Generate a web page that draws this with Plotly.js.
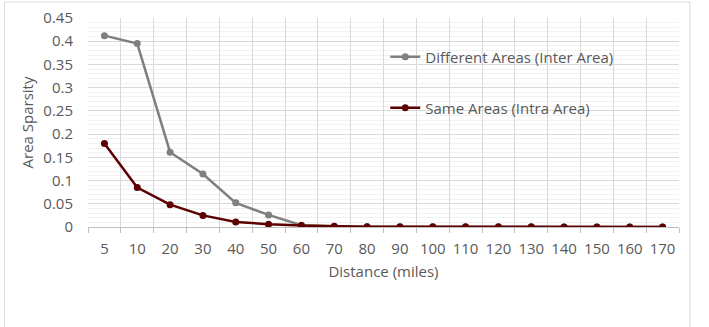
<!DOCTYPE html>
<html>
<head>
<meta charset="utf-8">
<script src="https://cdn.plot.ly/plotly-3.0.1.min.js"></script>
<style>
html,body{margin:0;padding:0;background:#fff;}
#chart{width:709px;height:327px;}
</style>
</head>
<body>
<div id="chart"></div>
<script>
const categories = ["5","10","20","30","40","50","60","70","80","90","100","110","120","130","140","150","160","170"];
const interArea = [0.412,0.395,0.161,0.114,0.052,0.026,0.004,0.001,0.0005,0,0,0,0,0,0,0,0,0];
const intraArea = [0.180,0.085,0.048,0.025,0.011,0.006,0.003,0.0015,0.0007,0.0005,0.0004,0.0003,0.0003,0.0003,0.0002,0.0002,0.0002,0.0002];
const interName = "Different Areas (Inter Area)";
const intraName = "Same Areas (Intra Area)";
const yTitle = "Area Sparsity";
const xTitle = "Distance (miles)";

const font = "Open Sans, Noto Sans, sans-serif";
const txt = "#595959";
const fs = 15;

const traces = [
  {x: categories, y: interArea, name: interName, type: "scatter", mode: "lines+markers",
   line: {color: "#7f7f7f", width: 2.5}, marker: {color: "#7f7f7f", size: 7}, legend: "legend"},
  {x: categories, y: intraArea, name: intraName, type: "scatter", mode: "lines+markers",
   line: {color: "#5c0000", width: 2.5}, marker: {color: "#5c0000", size: 7}, legend: "legend2"}
];

const L = 87.5, R = 679, T = 18, B = 227;
const px = v => (v - L) / (R - L);
const py = v => (B - v) / (B - T);

const layout = {
  width: 709, height: 327,
  margin: {l: L, r: 709 - R, t: T, b: 327 - B},
  paper_bgcolor: "#ffffff", plot_bgcolor: "#ffffff",
  font: {family: font, size: fs, color: txt},
  showlegend: true,
  xaxis: {
    type: "category", tickson: "boundaries", range: [-0.5, categories.length - 0.5],
    tickangle: 0,
    showgrid: true, gridcolor: "#d9d9d9", gridwidth: 1,
    ticks: "outside", ticklen: 5, tickcolor: "#bfbfbf",
    showline: true, linecolor: "#bfbfbf", linewidth: 1,
    tickfont: {family: font, size: fs, color: txt},
    ticklabelstandoff: 8,
    title: {text: xTitle, font: {family: font, size: fs, color: txt}, standoff: 9},
    zeroline: false, fixedrange: true
  },
  xaxis2: {
    overlaying: "x", type: "linear", range: [-0.5, categories.length - 0.5],
    tickmode: "linear", tick0: 0, dtick: 1, showticklabels: false, ticks: "",
    showgrid: true, gridcolor: "#ececec", gridwidth: 1, zeroline: false, showline: false,
    layer: "below traces", fixedrange: true
  },
  yaxis: {
    range: [0, 0.45], dtick: 0.05, tick0: 0,
    showgrid: true, gridcolor: "#d9d9d9", gridwidth: 1,
    minor: {dtick: 0.01, showgrid: true, gridcolor: "#f2f2f2", gridwidth: 1},
    zeroline: false, showline: false, ticks: "",
    tickfont: {family: font, size: fs, color: txt},
    ticklabelstandoff: 14,
    title: {text: yTitle, font: {family: font, size: fs, color: txt}, standoff: 6},
    fixedrange: true
  },
  legend: {x: px(385), y: py(57), xanchor: "left", yanchor: "middle",
    bgcolor: "rgba(0,0,0,0)", font: {family: font, size: fs, color: txt}},
  legend2: {x: px(385), y: py(108), xanchor: "left", yanchor: "middle",
    bgcolor: "rgba(0,0,0,0)", font: {family: font, size: fs, color: txt}},
  shapes: [
    {type: "rect", xref: "paper", yref: "paper",
     x0: px(4), x1: px(690), y0: py(345), y1: py(2),
     line: {color: "#d9d9d9", width: 1}, layer: "below"}
  ]
};

Plotly.newPlot("chart", traces, layout, {displayModeBar: false, staticPlot: true});
</script>
</body>
</html>
